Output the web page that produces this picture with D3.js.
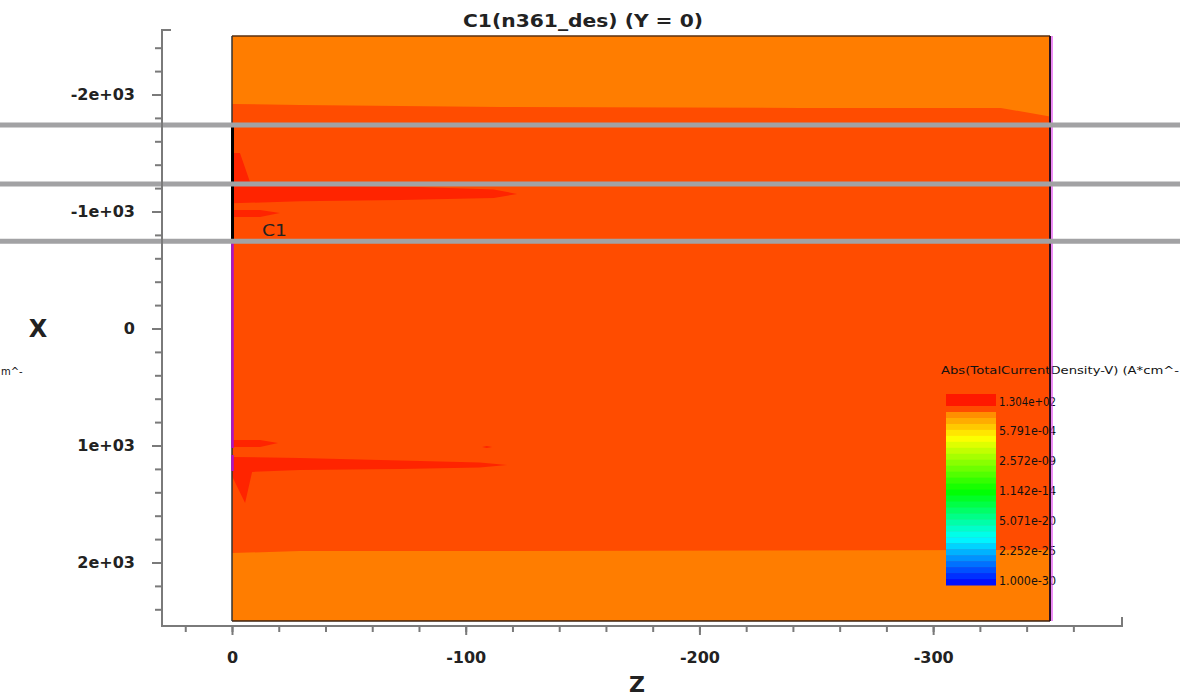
<!DOCTYPE html>
<html>
<head>
<meta charset="utf-8">
<script src="https://cdn.jsdelivr.net/npm/d3@7"></script>
<style>
  body { margin: 0; background: #fff; }
  svg text { font-family: "DejaVu Sans", sans-serif; fill: #222; }
</style>
</head>
<body>
<div id="chart"></div>
<script>
// axis ticks (Z is along the horizontal axis, X along the vertical one)
const zMajorTicks = [0, -100, -200, -300];
const zMinorTicks = [20, 0, -20, -40, -60, -80, -100, -120, -140, -160, -180, -200, -220, -240, -260, -280, -300, -320, -340, -360];
const xMajorTicks = [-2000, -1000, 0, 1000, 2000];
const xTickLabels = ["-2e+03", "-1e+03", "0", "1e+03", "2e+03"];
const xMinorTicks = [-2400, -2200, -2000, -1800, -1600, -1400, -1200, -1000, -800, -600, -400, -200, 0, 200, 400, 600, 800, 1000, 1200, 1400, 1600, 1800, 2000, 2200, 2400];

// legend values (log scale)
const legendValues = [1.304e2, 5.791e-4, 2.572e-9, 1.142e-14, 5.071e-20, 2.252e-25, 1.0e-30];
const legendLabels = ["1.304e+02", "5.791e-04", "2.572e-09", "1.142e-14", "5.071e-20", "2.252e-25", "1.000e-30"];

// contour regions, points as [z, x]
const regionMid = [[0, -1919], [-29, -1910], [-115, -1893], [-243, -1885], [-329, -1885], [-350, -1812],
                   [-350, 1890], [-329, 1893], [-115, 1902], [-29, 1902], [0, 1919]];
const streakTop = [[0, -1500], [-3.4, -1500], [-7.7, -1252], [-29, -1225], [-80, -1210], [-112, -1188],
                   [-122, -1150], [-112, -1115], [-72, -1098], [-29, -1088], [0, -1070]];
const streakTopSmall = [[0, -1013], [-12, -1013], [-20.5, -987], [-12, -953], [0, -953]];
const streakBottomSmall = [[0, 953], [-12, 953], [-19.7, 979], [-12, 1013], [0, 1013]];
const streakBottomDot = [[-107, 1013], [-109, 1004], [-111.3, 1013], [-109, 1021]];
const streakBottom = [[0, 1098], [-29, 1107], [-72, 1128], [-106, 1145], [-117.7, 1167], [-106, 1188],
                      [-72, 1201], [-29, 1209], [-8.6, 1226], [-5.6, 1491], [0, 1260]];

// cut lines and contact edges (X values)
const cutLines = [-1740, -1235, -745];
const blackEdge = [-1740, -745];
const magentaEdges = [[-745, 1021], [1081, 1218]];

// colour bar stops, bottom (0) to top (1)
const barStops = [0, 0.12, 0.27, 0.54, 0.85, 1];
const barColors = ["#0000ff", "#0070ff", "#00ffff", "#00ff00", "#ffff00", "#ff8000"];

const svg = d3.select("#chart").append("svg").attr("width", 1202).attr("height", 697);
svg.append("clipPath").attr("id", "clipAll").append("rect")
    .attr("x", 0).attr("y", 0).attr("width", 1180).attr("height", 697);
const g = svg.append("g").attr("clip-path", "url(#clipAll)");

const zScale = d3.scaleLinear().domain([0, -350]).range([232, 1050]);
const xScale = d3.scaleLinear().domain([-2500, 2500]).range([36, 621]);

const line = d3.line()
    .x(function (d) { return zScale(d[0]); })
    .y(function (d) { return xScale(d[1]); });

// plot area
g.append("rect")
    .attr("x", zScale(0)).attr("y", xScale(-2500))
    .attr("width", zScale(-350) - zScale(0))
    .attr("height", xScale(2500) - xScale(-2500))
    .attr("fill", "#ff7d00");

function region(points, color) {
    g.append("path").datum(points)
        .attr("d", function (d) { return line(d) + "Z"; })
        .attr("fill", color);
}
region(regionMid, "#ff4c00");
region(streakTop, "#ff2400");
region(streakTopSmall, "#ff2400");
region(streakBottomSmall, "#ff2400");
region(streakBottomDot, "#ff2400");
region(streakBottom, "#ff2400");

g.append("text").attr("x", 262).attr("y", 236)
    .attr("font-size", 16).attr("textLength", 25).attr("lengthAdjust", "spacingAndGlyphs")
    .text("C1");

// legend
const legTop = 412, legBottom = 585;
g.append("text").attr("x", 941).attr("y", 374)
    .attr("font-size", 10.5).attr("textLength", 238).attr("lengthAdjust", "spacingAndGlyphs")
    .style("fill", "#111")
    .text("Abs(TotalCurrentDensity-V) (A*cm^-");
g.append("rect").attr("x", 946).attr("y", 394).attr("width", 50).attr("height", 12).attr("fill", "#ff1800");

const barColor = d3.scaleLinear().domain(barStops).range(barColors);
const nBands = 29;
const bandH = (legBottom - legTop) / nBands;
g.append("g").selectAll("rect")
    .data(d3.range(nBands))
    .join("rect")
    .attr("x", 946)
    .attr("y", function (i) { return legTop + i * bandH; })
    .attr("width", 50)
    .attr("height", bandH + 0.5)
    .attr("fill", function (i) { return barColor(1 - (i + 0.5) / nBands); });

const legScale = d3.scaleLog().domain([1e-30, 130.4]).range([580, 401]);
g.append("g").selectAll("text")
    .data(legendValues)
    .join("text")
    .attr("x", 999)
    .attr("y", function (d) { return legScale(d) + 4.5; })
    .attr("font-size", 12.5)
    .attr("textLength", 57)
    .attr("lengthAdjust", "spacingAndGlyphs")
    .style("fill", "#111")
    .text(function (d, i) { return legendLabels[i]; });

// borders
g.append("line").attr("x1", zScale(0)).attr("x2", zScale(-350))
    .attr("y1", xScale(-2500)).attr("y2", xScale(-2500))
    .attr("stroke", "#5a3010").attr("stroke-width", 1.5);
g.append("line").attr("x1", zScale(0)).attr("x2", zScale(-350))
    .attr("y1", xScale(2500)).attr("y2", xScale(2500))
    .attr("stroke", "#3a2010").attr("stroke-width", 1.5);
g.append("line").attr("x1", zScale(0)).attr("x2", zScale(0))
    .attr("y1", xScale(-2500)).attr("y2", xScale(2500))
    .attr("stroke", "#333").attr("stroke-width", 1.5);
g.append("line").attr("x1", zScale(0) + 0.5).attr("x2", zScale(0) + 0.5)
    .attr("y1", xScale(blackEdge[0])).attr("y2", xScale(blackEdge[1]))
    .attr("stroke", "#000").attr("stroke-width", 3);
g.append("g").selectAll("line")
    .data(magentaEdges)
    .join("line")
    .attr("x1", zScale(0) + 0.5).attr("x2", zScale(0) + 0.5)
    .attr("y1", function (d) { return xScale(d[0]); })
    .attr("y2", function (d) { return xScale(d[1]); })
    .attr("stroke", "#b010c8").attr("stroke-width", 2.5);
g.append("line").attr("x1", zScale(-350)).attr("x2", zScale(-350))
    .attr("y1", xScale(-2500)).attr("y2", xScale(2500))
    .attr("stroke", "#2a1020").attr("stroke-width", 2);
g.append("line").attr("x1", zScale(-350) + 2).attr("x2", zScale(-350) + 2)
    .attr("y1", xScale(-2500)).attr("y2", xScale(2500))
    .attr("stroke", "#e040f0").attr("stroke-width", 1.2);

// cut lines
g.append("g").selectAll("line")
    .data(cutLines)
    .join("line")
    .attr("x1", 0).attr("x2", 1180)
    .attr("y1", function (d) { return xScale(d); })
    .attr("y2", function (d) { return xScale(d); })
    .attr("stroke", "#a2a2a4").attr("stroke-width", 5);

// axes
const axisColor = "#7a7a7a";
const axisX = 162, axisY = 626;

const leftMinor = g.append("g").attr("transform", "translate(" + axisX + ",0)")
    .call(d3.axisLeft(xScale).tickValues(xMinorTicks).tickSize(7).tickFormat(""));
const leftMajor = g.append("g").attr("transform", "translate(" + axisX + ",0)")
    .call(d3.axisLeft(xScale).tickValues(xMajorTicks).tickSize(10).tickPadding(17)
        .tickFormat(function (d, i) { return xTickLabels[i]; }));
const bottomMinor = g.append("g").attr("transform", "translate(0," + axisY + ")")
    .call(d3.axisBottom(zScale).tickValues(zMinorTicks).tickSize(6).tickFormat(""));
const bottomMajor = g.append("g").attr("transform", "translate(0," + axisY + ")")
    .call(d3.axisBottom(zScale).tickValues(zMajorTicks).tickSize(9).tickPadding(22)
        .tickFormat(function (d) { return d; }));

[leftMinor, leftMajor, bottomMinor, bottomMajor].forEach(function (a) {
    a.select(".domain").remove();
    a.selectAll(".tick line").attr("stroke", axisColor).attr("stroke-width", 2);
    a.selectAll(".tick text").attr("font-size", 16).attr("font-weight", "bold")
        .style("font-family", "DejaVu Sans, sans-serif").style("fill", "#222");
});
bottomMajor.selectAll(".tick text").attr("dy", "0.35em");

g.append("path")
    .attr("d", "M" + (axisX + 9) + ",30 H" + axisX + " V" + axisY + " H1122 V617")
    .attr("fill", "none").attr("stroke", axisColor).attr("stroke-width", 2);

// titles
g.append("text").attr("x", 583).attr("y", 27).attr("text-anchor", "middle")
    .attr("font-size", 18).attr("font-weight", "bold")
    .attr("textLength", 240).attr("lengthAdjust", "spacingAndGlyphs")
    .text("C1(n361_des) (Y = 0)");
g.append("text").attr("x", 38).attr("y", 337).attr("text-anchor", "middle")
    .attr("font-size", 24).attr("font-weight", "bold").text("X");
g.append("text").attr("x", 637).attr("y", 692).attr("text-anchor", "middle")
    .attr("font-size", 22).attr("font-weight", "bold").text("Z");
g.append("text").attr("x", 1).attr("y", 375)
    .attr("font-size", 10).style("fill", "#111").text("m^-");
</script>
</body>
</html>
